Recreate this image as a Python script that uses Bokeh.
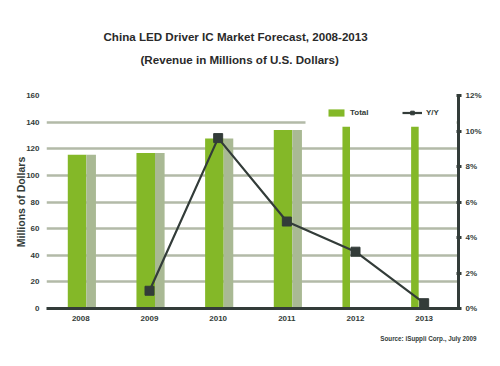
from bokeh.plotting import figure
from bokeh.models import (Range1d, LinearAxis, FixedTicker, PrintfTickFormatter,
                          Title, BoxAnnotation, Legend, LegendItem, ColumnDataSource)
from bokeh.embed import file_html
from bokeh.resources import INLINE

# ---- data ----
years = ["2008", "2009", "2010", "2011", "2012", "2013"]
total = [115.5, 116.8, 127.7, 134.0, 136.5, 136.5]
yy_years = ["2009", "2010", "2011", "2012", "2013"]
yy_pct = [1.0, 9.6, 4.9, 3.2, 0.3]
left_ticks = [0, 20, 40, 60, 80, 100, 120, 140, 160]
right_ticks = [0, 2, 4, 6, 8, 10, 12]

# ---- style ----
GREEN = "#84b828"
SHADE = "#a9b994"
DARK = "#333c39"
GRID = "#b3baa8"
FONT = "Liberation Sans"
bar_left_off = -0.19
green_w = [0.27, 0.27, 0.27, 0.27, 0.11, 0.11]
shade_w = [0.14, 0.14, 0.14, 0.14, 0.0, 0.0]

idx = list(range(len(years)))
pos = {y: i for i, y in enumerate(years)}

p = figure(width=484, frame_height=213, min_border_left=46, min_border_top=95,
           min_border_bottom=42, min_border_right=22, output_backend="svg",
           toolbar_location=None, x_range=Range1d(-0.5, 5.5), y_range=Range1d(0, 160))
p.outline_line_color = None
p.background_fill_color = "white"
p.border_fill_color = "white"

# grid
p.xgrid.visible = False
p.ygrid.ticker = FixedTicker(ticks=left_ticks)
p.ygrid.grid_line_color = GRID
p.ygrid.grid_line_width = 2.5

# left axis
p.yaxis.ticker = FixedTicker(ticks=left_ticks)
p.yaxis.axis_line_color = None
p.yaxis.major_tick_line_color = None
p.yaxis.minor_tick_line_color = None
p.yaxis.major_label_standoff = 1
p.yaxis.major_label_text_font = FONT
p.yaxis.major_label_text_font_size = "8px"
p.yaxis.major_label_text_font_style = "bold"
p.yaxis.major_label_text_color = DARK
p.yaxis.axis_label = "Millions of Dollars"
p.yaxis.axis_label_text_font = FONT
p.yaxis.axis_label_text_font_size = "10.5px"
p.yaxis.axis_label_text_font_style = "bold"
p.yaxis.axis_label_text_color = DARK
p.yaxis.axis_label_standoff = -4

# bottom axis
p.xaxis.ticker = FixedTicker(ticks=idx)
p.xaxis.major_label_overrides = {i: y for i, y in enumerate(years)}
p.xaxis.axis_line_color = DARK
p.xaxis.axis_line_width = 3
p.xaxis.major_tick_line_color = None
p.xaxis.minor_tick_line_color = None
p.xaxis.major_label_standoff = 1
p.xaxis.major_label_text_font = FONT
p.xaxis.major_label_text_font_size = "8px"
p.xaxis.major_label_text_font_style = "bold"
p.xaxis.major_label_text_color = DARK

# right axis
p.extra_y_ranges = {"pct": Range1d(0, 12)}
ra = LinearAxis(y_range_name="pct", ticker=FixedTicker(ticks=right_ticks),
                formatter=PrintfTickFormatter(format="%d%%"))
ra.axis_line_color = DARK
ra.axis_line_width = 3
ra.major_tick_line_color = DARK
ra.major_tick_line_width = 3
ra.major_tick_in = 2
ra.major_tick_out = 3
ra.minor_tick_line_color = None
ra.major_label_standoff = 4
ra.major_label_text_font = FONT
ra.major_label_text_font_size = "8px"
ra.major_label_text_font_style = "bold"
ra.major_label_text_color = DARK
p.add_layout(ra, "right")

# white patch behind legend (hides grid line)
p.add_layout(BoxAnnotation(left=259, right=410, top=204, bottom=184,
                           left_units="screen", right_units="screen",
                           top_units="screen", bottom_units="screen",
                           fill_color="white", fill_alpha=1, line_color=None))

# bars
gl = [i + bar_left_off for i in idx]
gr = [l + w for l, w in zip(gl, green_w)]
sr = [r + w for r, w in zip(gr, shade_w)]
bars = p.quad(left=gl, right=gr, bottom=0, top=total, fill_color=GREEN, line_color=None)
p.quad(left=gr, right=sr, bottom=0, top=total, fill_color=SHADE, line_color=None)

# Y/Y line
src = ColumnDataSource(dict(x=[pos[y] for y in yy_years], y=yy_pct))
ln = p.line("x", "y", source=src, y_range_name="pct", line_color=DARK, line_width=2.2)
mk = p.scatter("x", "y", source=src, y_range_name="pct", marker="square", size=9,
               fill_color=DARK, line_color=DARK)

legend = Legend(items=[LegendItem(label="Total", renderers=[bars]),
                       LegendItem(label="Y/Y", renderers=[ln, mk])],
                orientation="horizontal", location=(280, 191),
                background_fill_alpha=0, border_line_color=None,
                padding=2, margin=0, spacing=32, glyph_width=20, glyph_height=9,
                label_standoff=4, label_text_font=FONT, label_text_font_size="8px",
                label_text_font_style="bold", label_text_color=DARK)
p.add_layout(legend, "center")

# titles (stacked outward from the frame)
p.title = None
p.add_layout(Title(text=" ", text_font_size="10px", standoff=13), "above")
p.add_layout(Title(text="(Revenue in Millions of U.S. Dollars)", align="left", offset=94,
                   text_font=FONT, text_font_size="11.6px", text_font_style="bold",
                   text_color="#2a2a2a", standoff=8), "above")
p.add_layout(Title(text="China LED Driver IC Market Forecast, 2008-2013", align="left",
                   offset=57, text_font=FONT, text_font_size="11.6px",
                   text_font_style="bold", text_color="#2a2a2a", standoff=8), "above")
p.add_layout(Title(text="Source: iSuppli Corp., July 2009", align="right", offset=-18,
                   text_font=FONT, text_font_size="6.3px", text_font_style="bold",
                   text_color=DARK, standoff=18), "below")

open("out.html", "w").write(file_html(p, INLINE))
